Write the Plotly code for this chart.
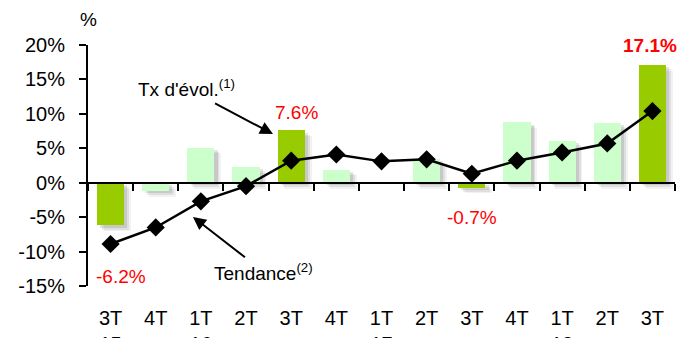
import plotly.graph_objects as go

# Quarterly growth rate (bars) and trend (line), in %
quarters = ["3T<br>15", "4T", "1T<br>16", "2T", "3T", "4T", "1T<br>17",
            "2T", "3T", "4T", "1T<br>18", "2T", "3T"]
evolution = [-6.2, -1.2, 5.1, 2.3, 7.6, 1.9, 0.0, 3.5, -0.7, 8.8, 6.1, 8.7, 17.1]
tendance = [-8.9, -6.5, -2.7, -0.5, 3.2, 4.1, 3.1, 3.4, 1.3, 3.2, 4.4, 5.7, 10.4]
y_ticks = [-15, -10, -5, 0, 5, 10, 15, 20]

FONT = "Arial, Liberation Sans, sans-serif"
DARK = "#99CC00"
LIGHT = "#CCFFCC"

idx = list(range(len(quarters)))
is_q3 = [q.startswith("3T") for q in quarters]
bar_colors = [DARK if q3 else LIGHT for q3 in is_q3]
BAR_W = 0.6

fig = go.Figure()

# soft drop shadow behind the bars (a few translucent layers)
for dx, dy, alpha in [(0.07, 0.35, 0.10), (0.11, 0.6, 0.08), (0.15, 0.85, 0.05)]:
    fig.add_trace(go.Bar(
        x=idx, y=evolution, base=[-dy] * len(idx), width=BAR_W,
        offset=-BAR_W / 2 + dx,
        marker=dict(color=f"rgba(0,0,0,{alpha})", line=dict(width=0)),
        hoverinfo="skip", showlegend=False,
    ))

fig.add_trace(go.Bar(
    x=idx, y=evolution, width=BAR_W, offset=-BAR_W / 2,
    marker=dict(color=bar_colors, line=dict(width=0)),
    name="Tx d'évol.", showlegend=False,
))

fig.add_trace(go.Scatter(
    x=idx, y=tendance, mode="lines+markers",
    line=dict(color="black", width=2.5),
    marker=dict(symbol="diamond", size=14, color="black"),
    name="Tendance", showlegend=False,
))

annotations = []
# red value labels on the third-quarter bars
label_shift = {0: (10, -51), 4: (5, 18), 8: (0, -30), 12: (-2, 19)}
for i, (dxs, dys) in label_shift.items():
    v = evolution[i]
    annotations.append(dict(
        x=i, y=v, xref="x", yref="y", showarrow=False,
        text=(f"<b>{v:.1f}%</b>" if i == 12 else f"{v:.1f}%"),
        font=dict(family=FONT, size=19, color="#FF0000"),
        xshift=dxs, yshift=dys, xanchor="center", yanchor="middle",
    ))

# series captions, each with an arrow pointing at its series
annotations.append(dict(
    x=3.597, y=7.07, xref="x", yref="y",
    text="Tx d'évol.<sup>(1)</sup>", showarrow=True,
    ax=-87, ay=-46, arrowhead=2, arrowsize=1.3, arrowwidth=2,
    arrowcolor="black", standoff=0, startstandoff=4,
    font=dict(family=FONT, size=19, color="black"),
))
annotations.append(dict(
    x=1.825, y=-4.98, xref="x", yref="y",
    text="Tendance<sup>(2)</sup>", showarrow=True,
    ax=71, ay=55, arrowhead=2, arrowsize=1.3, arrowwidth=2,
    arrowcolor="black", standoff=0, startstandoff=2,
    font=dict(family=FONT, size=19, color="black"),
))
# unit caption above the value axis
annotations.append(dict(
    x=0.0, y=1.104, xref="paper", yref="paper", showarrow=False,
    text="%", xanchor="center", yanchor="middle",
    font=dict(family=FONT, size=19, color="black"),
))

x_range = [-0.5, len(quarters) - 0.5]
y_range = [y_ticks[0], y_ticks[-1]]
zero_pos = (0 - y_range[0]) / (y_range[1] - y_range[0])

fig.update_layout(
    width=679, height=338,
    margin=dict(l=88, r=4, t=45, b=52, autoexpand=False),
    paper_bgcolor="white", plot_bgcolor="white",
    barmode="overlay", bargap=0,
    showlegend=False,
    font=dict(family=FONT, size=20, color="black"),
    annotations=annotations,
    # category axis drawn along the zero line, ticks on category boundaries
    xaxis=dict(
        range=x_range, anchor="free", position=zero_pos,
        showline=True, linecolor="black", linewidth=2,
        tickmode="array", tickvals=[i - 0.5 for i in idx] + [len(idx) - 0.5],
        ticks="outside", ticklen=7, tickwidth=2, tickcolor="black",
        showticklabels=False, showgrid=False, zeroline=False,
        automargin=False,
    ),
    # quarter labels beneath the plot
    xaxis2=dict(
        range=x_range, overlaying="x", anchor="y", side="bottom",
        tickmode="array", tickvals=idx, ticktext=quarters,
        ticks="outside", ticklen=14, tickcolor="rgba(0,0,0,0)",
        showline=False, showgrid=False, zeroline=False,
        tickfont=dict(family=FONT, size=20, color="black"),
        automargin=False,
    ),
    yaxis=dict(
        range=y_range, tickmode="array", tickvals=y_ticks,
        ticktext=[f"{t}%" for t in y_ticks],
        showline=True, linecolor="black", linewidth=2,
        ticks="outside", ticklen=7, tickwidth=2, tickcolor="black",
        ticklabelstandoff=10,
        showgrid=False, zeroline=False,
        tickfont=dict(family=FONT, size=20, color="black"),
        automargin=False,
    ),
)

# the label axis needs a trace to be drawn; an invisible one anchors it
fig.add_trace(go.Scatter(x=idx, y=[None] * len(idx), xaxis="x2",
                         mode="markers", hoverinfo="skip", showlegend=False))

fig.write_html("out.html")
